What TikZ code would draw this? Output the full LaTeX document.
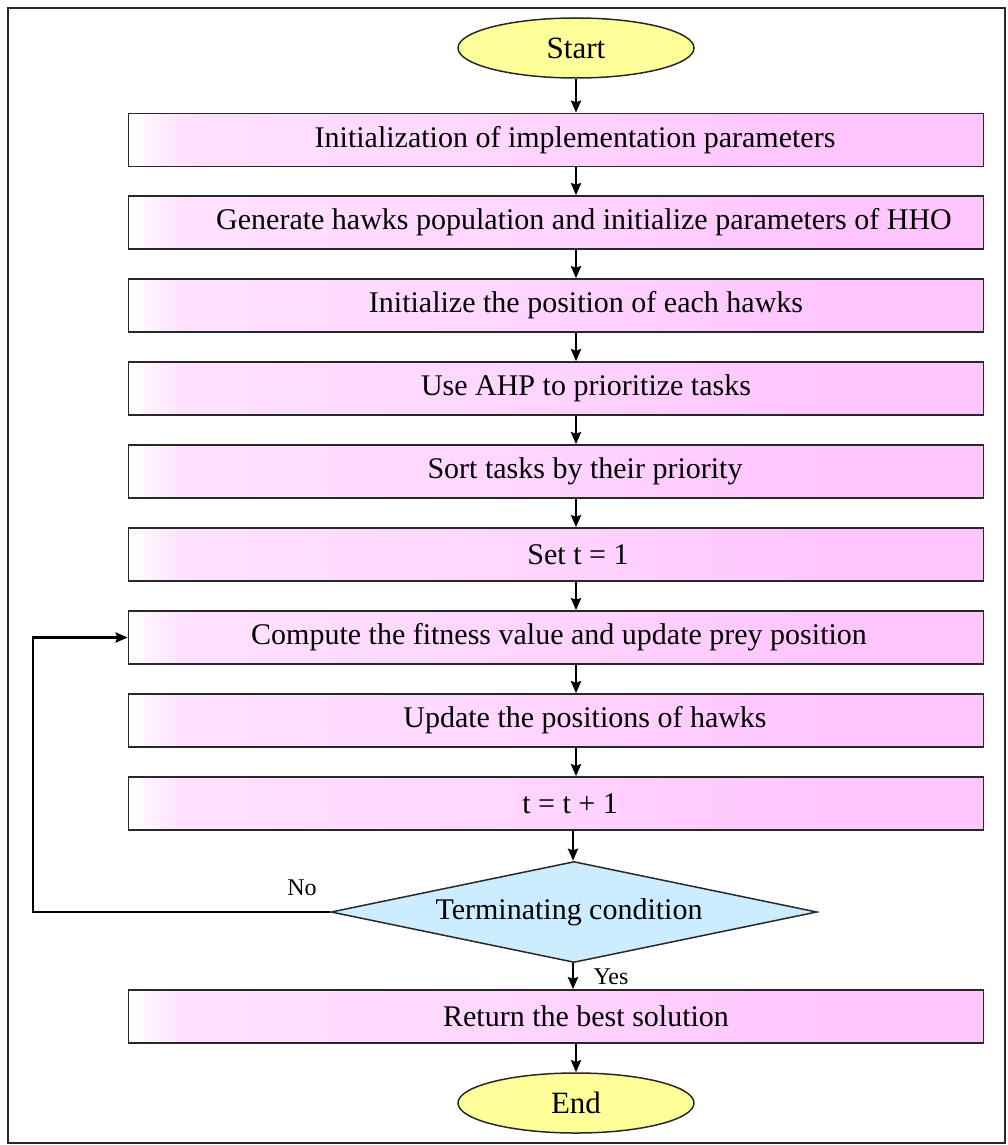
\documentclass[tikz,border=0pt]{standalone}
\usepackage{fontspec}
\setmainfont[FakeStretch=1.0]{Liberation Serif}
\usetikzlibrary{shapes.geometric,arrows.meta}
\definecolor{pOne}{RGB}{255,226,255}
\definecolor{pTwo}{RGB}{255,212,255}
\definecolor{pThree}{RGB}{255,197,255}
\definecolor{ylw}{RGB}{255,255,153}
\definecolor{lblue}{RGB}{204,236,255}
\definecolor{edge}{RGB}{40,40,40}
\pgfdeclarehorizontalshading{boxgrad}{100bp}{color(0bp)=(white); color(25bp)=(white); color(28bp)=(pOne); color(50bp)=(pTwo); color(66bp)=(pThree); color(100bp)=(pThree)}
\begin{document}
\begin{tikzpicture}[x=1pt,y=-1pt,
  stepbox/.style={draw=edge, line width=1.6pt, minimum width=855pt, minimum height=53pt,
    shading=boxgrad, inner sep=0pt},
  txt/.style={font=\fontsize{30}{33}\selectfont, inner sep=0pt},
  term/.style={ellipse, draw=edge, line width=1.5pt, fill=ylw, minimum width=236pt, minimum height=60pt,
    inner sep=0pt, font=\fontsize{31}{34}\selectfont},
  dec/.style={diamond, draw=edge, line width=1.5pt, fill=lblue, minimum width=486pt, minimum height=101pt,
    aspect=5, inner sep=0pt},
  arr/.style={-{Stealth[length=12pt,width=10pt,inset=1.5pt]}, line width=2.6pt},
  lbl/.style={font=\fontsize{24}{26}\selectfont, inner sep=0pt}
]
\useasboundingbox (0,0) rectangle (1008,1145);
\draw[line width=2.2pt, draw=edge] (8,8) rectangle (1005,1143);

\node[term] (start) at (576,48) {Start};

\node[stepbox] (b1) at (556,140) {};
\node[txt] (t1) at (575,140) {Initialization of implementation parameters};
\node[stepbox] (b2) at (556,222.5) {};
\node[txt] (t2) at (584,222.5) {Generate hawks population and initialize parameters of HHO};
\node[stepbox] (b3) at (556,305.5) {};
\node[txt] (t3) at (586,305.5) {Initialize the position of each hawks};
\node[stepbox] (b4) at (556,388.5) {};
\node[txt] (t4) at (586,388.5) {Use AHP to prioritize tasks};
\node[stepbox] (b5) at (556,471.5) {};
\node[txt] (t5) at (585,471.5) {Sort tasks by their priority};
\node[stepbox] (b6) at (556,554.5) {};
\node[txt] (t6) at (578,554.5) {Set t = 1};
\node[stepbox] (b7) at (556,637.5) {};
\node[txt] (t7) at (559,637.5) {Compute the fitness value and update prey position};
\node[stepbox] (b8) at (556,720.5) {};
\node[txt] (t8) at (585,720.5) {Update the positions of hawks};
\node[stepbox] (b9) at (556,803.5) {};
\node[txt] (t9) at (570,803.5) {t = t + 1};

\node[dec] (d) at (574,912) {};
\node[txt] (td) at (569,912) {Terminating condition};

\node[stepbox] (b10) at (556,1016.5) {};
\node[txt] (t10) at (586,1016.5) {Return the best solution};

\node[term] (end) at (576,1103) {End};

\coordinate (ax) at (576,0);
\coordinate (dx) at (573,0);
\coordinate (lx) at (33,0);

\draw[arr] (start.south) -- (b1.north -| ax);
\draw[arr] (b1.south -| ax) -- (b2.north -| ax);
\draw[arr] (b2.south -| ax) -- (b3.north -| ax);
\draw[arr] (b3.south -| ax) -- (b4.north -| ax);
\draw[arr] (b4.south -| ax) -- (b5.north -| ax);
\draw[arr] (b5.south -| ax) -- (b6.north -| ax);
\draw[arr] (b6.south -| ax) -- (b7.north -| ax);
\draw[arr] (b7.south -| ax) -- (b8.north -| ax);
\draw[arr] (b8.south -| ax) -- (b9.north -| ax);
\draw[arr] (b9.south -| dx) -- (d.north -| dx);
\draw[arr] (d.south -| dx) -- (b10.north -| dx);
\draw[arr] (b10.south -| ax) -- (end.north);
\draw[arr] (d.west) -- (d.west -| lx) |- (b7.west);

\node[lbl] (no) at (302,888) {No};
\node[lbl] (yes) at (611,977) {Yes};
\end{tikzpicture}
\end{document}
